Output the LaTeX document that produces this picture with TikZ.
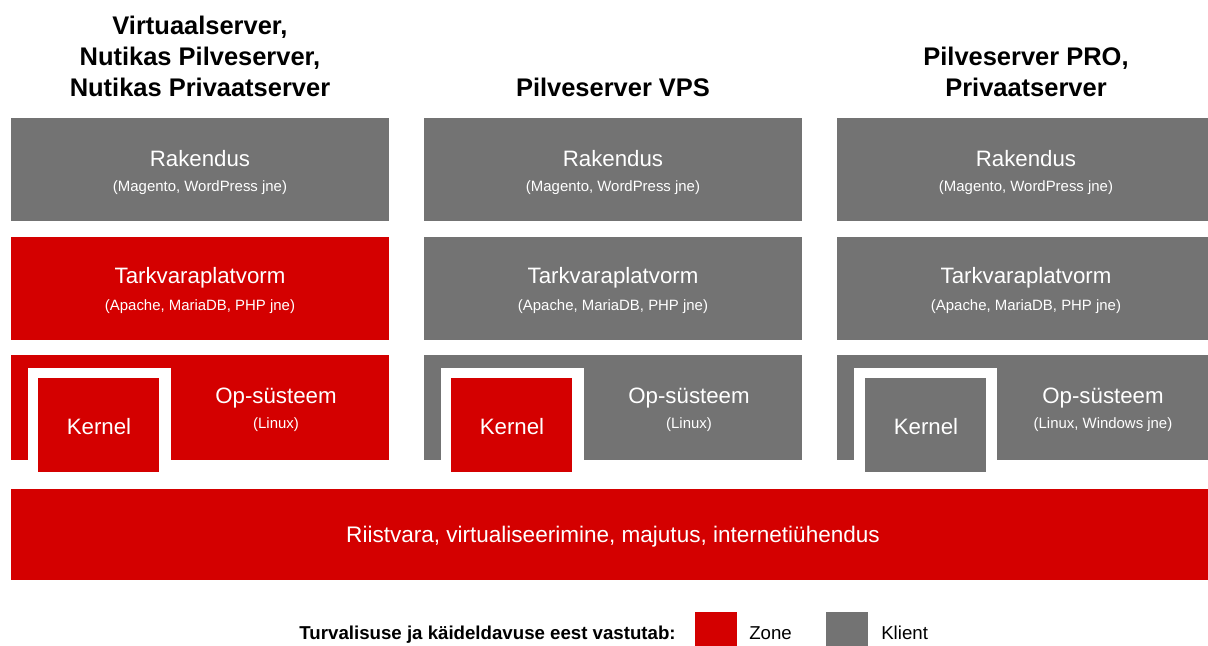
\documentclass[tikz,border=0pt]{standalone}
\usepackage{fontspec}
\setmainfont{Liberation Sans}
\definecolor{zonered}{RGB}{212,0,0}
\definecolor{klientgray}{RGB}{115,115,115}
\begin{document}
\begin{tikzpicture}[x=0.75pt, y=-0.75pt, line join=round,
	head/.style={align=center, font=\bfseries\fontsize{19.1}{23.2}\selectfont},
	title/.style={text=white, font=\fontsize{16.7}{18}\selectfont},
	sub/.style={text=white, font=\fontsize{11.2}{12}\selectfont},
	legend/.style={inner sep=0pt, font=\fontsize{14}{16}\selectfont}]
	\useasboundingbox[fill=white] (0,0) rectangle (1208,646);
	% pealkirjad
	\node[head] (head1) at (200,56) {Virtuaalserver,\\Nutikas Pilveserver,\\Nutikas Privaatserver};
	\node[head] (head2) at (613,87) {Pilveserver VPS};
	\node[head] (head3) at (1026,71.5) {Pilveserver PRO,\\Privaatserver};
	% rakendus
	\fill[klientgray] (11,118) rectangle (389,221);
	\fill[klientgray] (424,118) rectangle (802,221);
	\fill[klientgray] (837,118) rectangle (1215,221);
	\node[title] (rak1) at (200,159) {Rakendus};
	\node[sub] (rakd1) at (200,188) {(Magento, WordPress jne)};
	\node[title] (rak2) at (613,159) {Rakendus};
	\node[sub] (rakd2) at (613,188) {(Magento, WordPress jne)};
	\node[title] (rak3) at (1026,159) {Rakendus};
	\node[sub] (rakd3) at (1026,188) {(Magento, WordPress jne)};
	% tarkvaraplatvorm
	\fill[zonered] (11,237) rectangle (389,340);
	\fill[klientgray] (424,237) rectangle (802,340);
	\fill[klientgray] (837,237) rectangle (1215,340);
	\node[title] (tark1) at (200,278) {Tarkvaraplatvorm};
	\node[sub] (tarkd1) at (200,307) {(Apache, MariaDB, PHP jne)};
	\node[title] (tark2) at (613,278) {Tarkvaraplatvorm};
	\node[sub] (tarkd2) at (613,307) {(Apache, MariaDB, PHP jne)};
	\node[title] (tark3) at (1026,278) {Tarkvaraplatvorm};
	\node[sub] (tarkd3) at (1026,307) {(Apache, MariaDB, PHP jne)};
	% op-susteem ja kernel
	\fill[zonered] (11,355) rectangle (389,460);
	\fill[klientgray] (424,355) rectangle (802,460);
	\fill[klientgray] (837,355) rectangle (1215,460);
	\fill[white] (28,368) rectangle (171,472);
	\fill[white] (441,368) rectangle (584,472);
	\fill[white] (854,368) rectangle (997,472);
	\fill[zonered] (38,378) rectangle (159,472);
	\fill[zonered] (451,378) rectangle (572,472);
	\fill[klientgray] (865,378) rectangle (986,472);
	\node[title] (ker1) at (99,427) {Kernel};
	\node[title] (ker2) at (512,427) {Kernel};
	\node[title] (ker3) at (926,427) {Kernel};
	\node[title] (op1) at (276,398) {Op-süsteem};
	\node[sub] (opd1) at (276,425) {(Linux)};
	\node[title] (op2) at (689,398) {Op-süsteem};
	\node[sub] (opd2) at (689,425) {(Linux)};
	\node[title] (op3) at (1103,398) {Op-süsteem};
	\node[sub] (opd3) at (1103,425) {(Linux, Windows jne)};
	% riistvara
	\fill[zonered] (11,489) rectangle (1215,580);
	\node[title, font=\fontsize{16.9}{18}\selectfont] (hw) at (613,537) {Riistvara, virtualiseerimine, majutus, internetiühendus};
	% legend
	\node[legend, anchor=base east, font=\bfseries\fontsize{14}{16}\selectfont] (leg) at (676,639) {Turvalisuse ja käideldavuse eest vastutab:};
	\fill[zonered] (695,612) rectangle (737,654);
	\node[legend, anchor=base west] (zone) at (749,639) {Zone};
	\fill[klientgray] (826,612) rectangle (868,654);
	\node[legend, anchor=base west] (klient) at (881,639) {Klient};
\end{tikzpicture}
\end{document}
